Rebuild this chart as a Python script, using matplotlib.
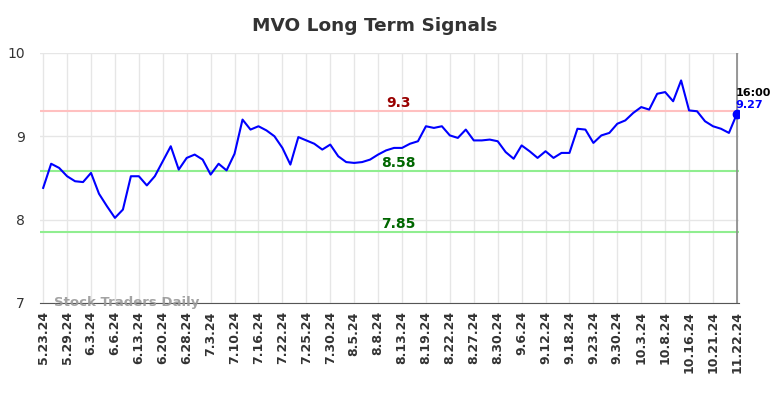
import numpy as np
import matplotlib
matplotlib.use("Agg")
import matplotlib.pyplot as plt

# Data
values = [8.38, 8.67, 8.62, 8.52, 8.46, 8.45, 8.56, 8.31, 8.16, 8.02,
          8.12, 8.52, 8.52, 8.41, 8.52, 8.70, 8.88, 8.60, 8.74, 8.78,
          8.72, 8.54, 8.67, 8.59, 8.79, 9.20, 9.08, 9.12, 9.07, 9.00,
          8.86, 8.66, 8.99, 8.95, 8.91, 8.84, 8.90, 8.76, 8.69, 8.68,
          8.69, 8.72, 8.78, 8.83, 8.86, 8.86, 8.91, 8.94, 9.12, 9.10,
          9.12, 9.01, 8.98, 9.08, 8.95, 8.95, 8.96, 8.94, 8.81, 8.73,
          8.89, 8.82, 8.74, 8.82, 8.74, 8.80, 8.80, 9.09, 9.08, 8.92,
          9.01, 9.04, 9.15, 9.19, 9.28, 9.35, 9.32, 9.51, 9.53, 9.42,
          9.67, 9.31, 9.30, 9.18, 9.12, 9.09, 9.04, 9.27]
tick_labels = ['5.23.24', '5.29.24', '6.3.24', '6.6.24', '6.13.24', '6.20.24',
               '6.28.24', '7.3.24', '7.10.24', '7.16.24', '7.22.24', '7.25.24',
               '7.30.24', '8.5.24', '8.8.24', '8.13.24', '8.19.24', '8.22.24',
               '8.27.24', '8.30.24', '9.6.24', '9.12.24', '9.18.24', '9.23.24',
               '9.30.24', '10.3.24', '10.8.24', '10.16.24', '10.21.24', '11.22.24']
resistance = 9.3
supports = [8.58, 7.85]
last_time = '16:00'

x = np.arange(len(values))
tick_pos = list(range(0, len(values) - 3, 3)) + [len(values) - 1]

fig = plt.figure(figsize=(7.84, 3.98), dpi=100)
ax = fig.add_axes([0.051, 0.239, 0.892, 0.628])

ax.set_xlim(-0.4, len(values) - 1 + 0.3)
ax.set_ylim(7, 10)
ax.set_yticks([7, 8, 9, 10])
ax.set_xticks(tick_pos)
ax.set_xticklabels(tick_labels, rotation=90, fontsize=9, fontweight='bold', color='#333333')
ax.tick_params(axis='both', length=0, pad=6)
ax.tick_params(axis='y', labelsize=10, colors='#333333', pad=11)
ax.grid(True, color='#e6e6e6', linewidth=1)
ax.set_axisbelow(True)

for s in ['top', 'right', 'left']:
    ax.spines[s].set_visible(False)
ax.spines['bottom'].set_color('#555555')

mid = (len(values) - 1) / 2 + 1.0
ax.axhline(resistance, color='#ffc0c0', linewidth=1.5)
ax.text(mid, resistance + 0.01, str(resistance), color='#990000', fontsize=10,
        fontweight='bold', ha='center', va='bottom')
for s in supports:
    ax.axhline(s, color='#90ee90', linewidth=1.5)
    ax.text(mid, s + 0.01, f'{s:.2f}', color='#006600', fontsize=10,
            fontweight='bold', ha='center', va='bottom')

ax.axvline(x[-1], color='#888888', linewidth=1.2)
ax.plot(x, values, color='#0000ff', linewidth=1.5)
ax.plot(x[-1], values[-1], 'o', color='#0000ff', markersize=6)

ax.text(x[-1] - 0.2, values[-1] + 0.19, last_time, fontsize=8, fontweight='bold',
        color='black', ha='left', va='bottom')
ax.text(x[-1] - 0.2, values[-1] + 0.05, f'{values[-1]:.2f}', fontsize=8,
        fontweight='bold', color='#0000ff', ha='left', va='bottom')

ax.text(1.4, 7.0, 'Stock Traders Daily', fontsize=9.5, fontweight='bold',
        color='#999999', ha='left', va='center', alpha=0.9)

fig.text(0.478, 0.935, 'MVO Long Term Signals', fontsize=13.3, fontweight='bold',
         color='#333333', ha='center', va='center')

fig.savefig('out.png', dpi=100)
